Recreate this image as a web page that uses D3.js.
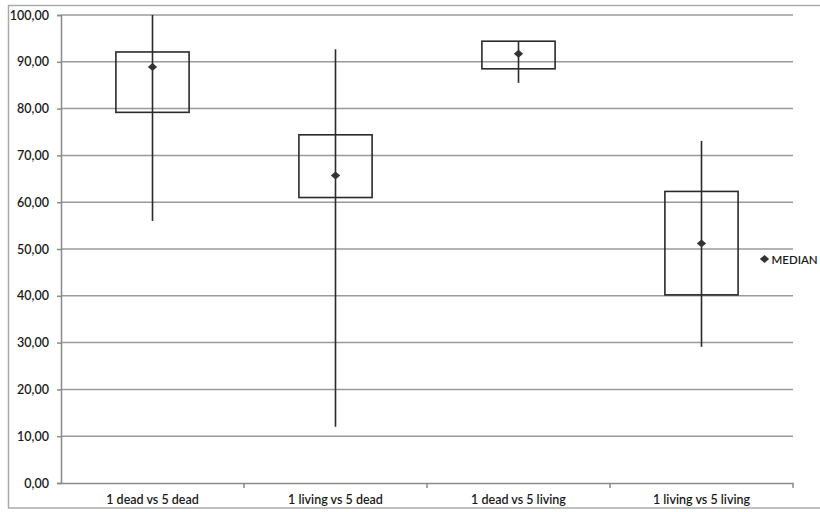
<!DOCTYPE html>
<html><head><meta charset="utf-8">
<script src="https://cdn.jsdelivr.net/npm/d3@7"></script>
<style>body{margin:0;background:#fff}svg{display:block}text{font-family:Lato,"Open Sans",sans-serif;fill:#1a1a1a}</style>
</head><body><svg id="c" width="820" height="512"></svg>
<script>
const categories = ["1 dead vs 5 dead","1 living vs 5 dead","1 dead vs 5 living","1 living vs 5 living"];
const whiskerLow  = [56.0, 12.0, 85.5, 29.1];
const whiskerHigh = [100.0, 92.7, 94.4, 73.1];
const boxLow      = [79.2, 61.0, 88.5, 40.2];
const boxHigh     = [92.1, 74.4, 94.4, 62.3];
const medians     = [88.9, 65.7, 91.7, 51.2];
const yTicks = [0,10,20,30,40,50,60,70,80,90,100];

const FONT = "Lato,'Open Sans',sans-serif";
const svg = d3.select("#c");
svg.append("rect").attr("x",8.5).attr("y",5.5).attr("width",820).attr("height",502.5)
  .attr("fill","none").attr("stroke","#aaa").attr("stroke-width",1.5);

const pL=61, pR=793, pT=15, pB=483;
const y = d3.scaleLinear().domain([0,100]).range([pB,pT]);
const x = d3.scaleBand().domain(categories).range([pL,pR]).padding(0);
const fmt = v => d3.format(".2f")(v).replace(".",",");

// gridlines
svg.append("g").selectAll("line").data(yTicks.filter(d=>d>0)).join("line")
  .attr("x1",pL).attr("x2",pR).attr("y1",d=>y(d)).attr("y2",d=>y(d))
  .attr("stroke","#9a9a9a").attr("stroke-width",1.5);

// y axis
const ya = svg.append("g").attr("transform",`translate(${pL},0)`)
  .call(d3.axisLeft(y).tickValues(yTicks).tickFormat(fmt).tickSize(4).tickPadding(8));
ya.select(".domain").attr("stroke","#8a8a8a").attr("stroke-width",1.5);
ya.selectAll(".tick line").attr("stroke","#8a8a8a").attr("stroke-width",1.5);
ya.selectAll("text").attr("font-size",12.5).attr("font-weight",600).attr("fill","#1a1a1a").style("font-family",FONT);

// x axis
const xa = svg.append("g").attr("transform",`translate(0,${pB})`)
  .call(d3.axisBottom(x).tickSize(0).tickPadding(12));
xa.select(".domain").attr("stroke","#8a8a8a").attr("stroke-width",1.5);
xa.selectAll("text").attr("font-size",12.5).attr("font-weight",600).attr("fill","#1a1a1a").style("font-family",FONT);
const bounds = categories.map(c=>x(c)).slice(1).concat([x(categories[3])+x.bandwidth()]);
svg.append("g").selectAll("line").data(bounds).join("line")
  .attr("x1",d=>d).attr("x2",d=>d).attr("y1",pB).attr("y2",pB+5)
  .attr("stroke","#8a8a8a").attr("stroke-width",1.5);

const bw = x.bandwidth()*0.4;
const cx = c => x(c)+x.bandwidth()/2;
const g = svg.append("g");
// boxes
g.selectAll("rect.box").data(categories).join("rect").attr("class","box")
  .attr("x",c=>cx(c)-bw/2).attr("width",bw)
  .attr("y",(c,i)=>y(boxHigh[i])).attr("height",(c,i)=>y(boxLow[i])-y(boxHigh[i]))
  .attr("fill","none").attr("stroke","#2a2a2a").attr("stroke-width",1.6);
// whiskers
g.selectAll("line.wh").data(categories).join("line").attr("class","wh")
  .attr("x1",cx).attr("x2",cx)
  .attr("y1",(c,i)=>y(whiskerHigh[i])).attr("y2",(c,i)=>y(whiskerLow[i]))
  .attr("stroke","#2a2a2a").attr("stroke-width",1.6);
// medians (diamond = rotated square, slightly flattened)
const diamond = d3.symbol().type(d3.symbolSquare).size(44);
g.selectAll("path.med").data(categories).join("path").attr("class","med")
  .attr("d",diamond).attr("transform",(c,i)=>`translate(${cx(c)},${y(medians[i])}) scale(1,0.85) rotate(45)`)
  .attr("fill","#333");

// legend
svg.append("path").attr("d",diamond).attr("transform","translate(764.5,259) scale(1,0.85) rotate(45)").attr("fill","#333");
svg.append("text").attr("x",771.5).attr("y",263.5).attr("font-size",11.5).attr("font-weight",600).text("MEDIAN");
</script></body></html>
